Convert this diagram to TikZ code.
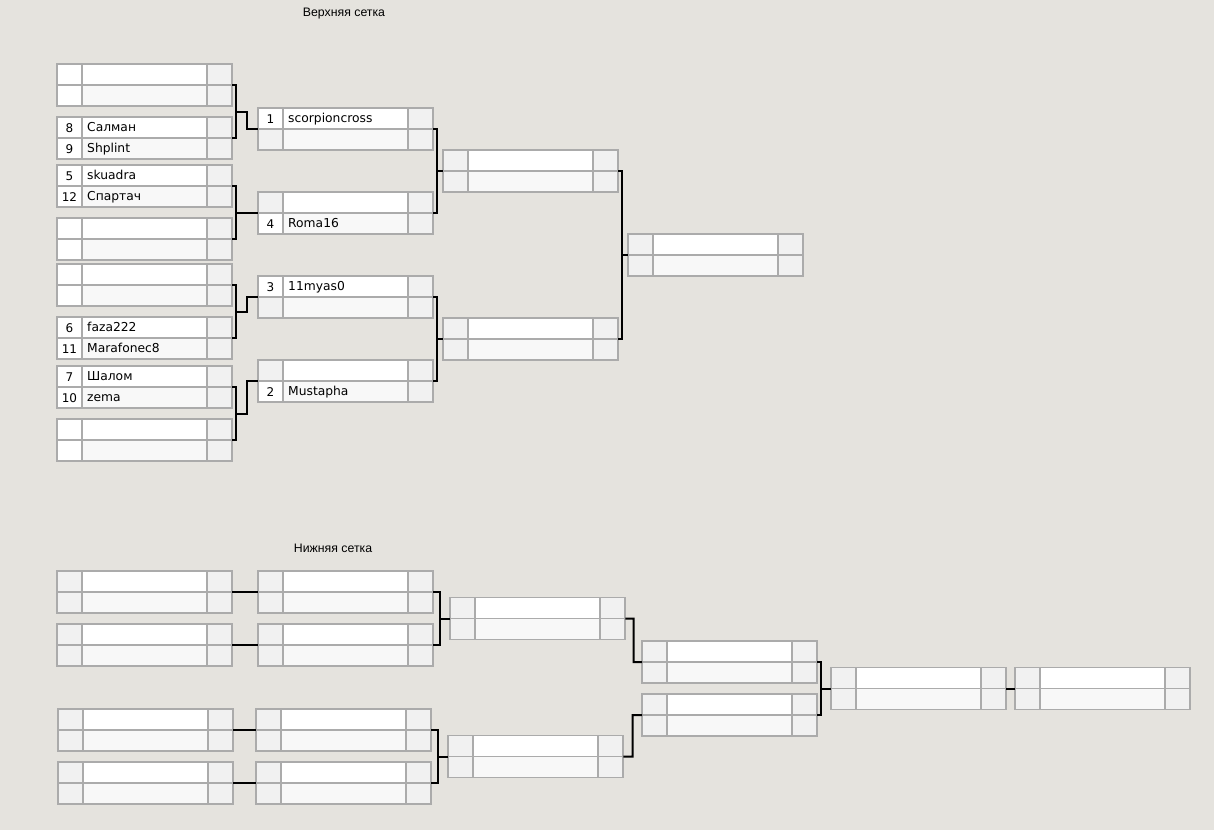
\documentclass[tikz,border=0pt]{standalone}
\usepackage{fontspec}
\setmainfont{DejaVu Sans}
\newfontfamily\titlefont{Liberation Sans}
\usetikzlibrary{calc}
\definecolor{bgcol}{HTML}{E5E3DE}
\definecolor{cellline}{HTML}{ABABAB}
\definecolor{rowtwo}{HTML}{F8F8F8}
\definecolor{cellgray}{HTML}{F1F1F1}
\tikzset{
  matchnode/.style={minimum width=175pt,minimum height=42pt,inner sep=0pt,anchor=north west},
  cell/.style={draw=cellline,line width=1.4pt},
  wire/.style={line width=2pt,black},
  seedtxt/.style={inner sep=0pt,anchor=base,font=\fontsize{12}{14}\selectfont},
  nametxt/.style={inner sep=0pt,anchor=base west,font=\fontsize{12.3}{14}\selectfont},
  gridtitle/.style={inner sep=0pt,font=\titlefont\fontsize{12.3}{14}\selectfont}
}
\newcommand\matchbox[8][cellgray]{%
  \if\relax\detokenize{#5}\relax\def\sfa{#1}\else\def\sfa{white}\fi
  \if\relax\detokenize{#7}\relax\def\sfb{#1}\else\def\sfb{white}\fi
  \node[matchnode] (#2) at (#3,#4) {};
  \begin{scope}[shift={(#3,#4)}]
    \draw[cell,fill=\sfa] (0,0) rectangle (25,21);
    \draw[cell,fill=white] (25,0) rectangle (150,21);
    \draw[cell,fill=cellgray] (150,0) rectangle (175,21);
    \draw[cell,fill=\sfb] (0,21) rectangle (25,42);
    \draw[cell,fill=rowtwo] (25,21) rectangle (150,42);
    \draw[cell,fill=cellgray] (150,21) rectangle (175,42);
    \node[seedtxt] (#2-s1) at (12.5,15) {#5};
    \node[nametxt] (#2-p1) at (30,14.5) {#6};
    \node[seedtxt] (#2-s2) at (12.5,36) {#7};
    \node[nametxt] (#2-p2) at (30,35.5) {#8};
  \end{scope}}
\newcommand\joinpair[4][4]{%
  \draw[wire] (#2.east) -- ++(#1,0) coordinate (#2-j) |- (#3.east);
  \coordinate (#2-m) at ($(#2-j)!.5!(#2-j |- #3.east)$);
  \draw[wire] (#2-m) -| ($(#2-m)!.5!(#2-m -| #4.west)$) |- (#4.west);}
\begin{document}
\begin{tikzpicture}[x=1pt,y=-1pt]
\fill[bgcol] (0,0) rectangle (1214,830);
\useasboundingbox (0,0) rectangle (1214,830);
\node[gridtitle] (uptitle) at (344,14) {Верхняя сетка};
\node[gridtitle] (lowtitle) at (333,548) {Нижняя сетка};

\matchbox[white]{u1a}{57}{64}{}{}{}{}
\matchbox[white]{u1b}{57}{117}{8}{Салман}{9}{Shplint}
\matchbox[white]{u1c}{57}{165}{5}{skuadra}{12}{Спартач}
\matchbox[white]{u1d}{57}{218}{}{}{}{}
\matchbox[white]{u1e}{57}{264}{}{}{}{}
\matchbox[white]{u1f}{57}{317}{6}{faza222}{11}{Marafonec8}
\matchbox[white]{u1g}{57}{366}{7}{Шалом}{10}{zema}
\matchbox[white]{u1h}{57}{419}{}{}{}{}
\matchbox{u2a}{258}{108}{1}{scorpioncross}{}{}
\matchbox{u2b}{258}{192}{}{}{4}{Roma16}
\matchbox{u2c}{258}{276}{3}{11myas0}{}{}
\matchbox{u2d}{258}{360}{}{}{2}{Mustapha}
\matchbox{u3a}{443}{150}{}{}{}{}
\matchbox{u3b}{443}{318}{}{}{}{}
\matchbox{u4}{628}{234}{}{}{}{}

\joinpair{u1a}{u1b}{u2a}
\joinpair{u1c}{u1d}{u2b}
\joinpair{u1e}{u1f}{u2c}
\joinpair{u1g}{u1h}{u2d}
\joinpair{u2a}{u2b}{u3a}
\joinpair{u2c}{u2d}{u3b}
\joinpair{u3a}{u3b}{u4}

\matchbox{l1a}{57}{571}{}{}{}{}
\matchbox{l1b}{57}{624}{}{}{}{}
\matchbox{l1c}{58}{709}{}{}{}{}
\matchbox{l1d}{58}{762}{}{}{}{}
\matchbox{l2a}{258}{571}{}{}{}{}
\matchbox{l2b}{258}{624}{}{}{}{}
\matchbox{l2c}{256}{709}{}{}{}{}
\matchbox{l2d}{256}{762}{}{}{}{}
\matchbox{l3a}{450}{597.5}{}{}{}{}
\matchbox{l3b}{448}{735.5}{}{}{}{}
\matchbox{l4a}{642}{641}{}{}{}{}
\matchbox{l4b}{642}{694}{}{}{}{}
\matchbox{l5}{831}{667.5}{}{}{}{}
\matchbox{l6}{1015}{667.5}{}{}{}{}

\draw[wire] (l1a.east) -- (l2a.west);
\draw[wire] (l1b.east) -- (l2b.west);
\draw[wire] (l1c.east) -- (l2c.west);
\draw[wire] (l1d.east) -- (l2d.west);
\joinpair[7]{l2a}{l2b}{l3a}
\joinpair[7]{l2c}{l2d}{l3b}
\draw[wire] (l3a.east) -- ($(l3a.east)!.5!(l3a.east -| l4a.west)$) |- (l4a.west);
\draw[wire] (l3b.east) -- ($(l3b.east)!.5!(l3b.east -| l4b.west)$) |- (l4b.west);
\joinpair{l4a}{l4b}{l5}
\draw[wire] (l5.east) -- (l6.west);
\end{tikzpicture}
\end{document}
